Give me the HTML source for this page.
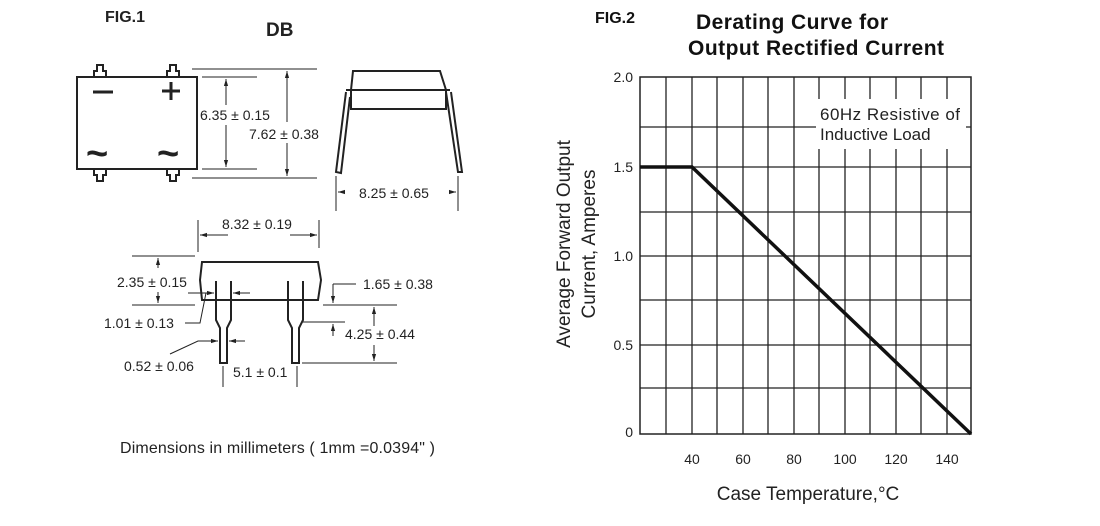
<!DOCTYPE html>
<html><head><meta charset="utf-8"><style>
html,body{margin:0;padding:0;background:#fff;}
svg{display:block;font-family:"Liberation Sans",Arial,sans-serif;}
</style></head><body>
<svg width="1100" height="526" viewBox="0 0 1100 526" xmlns="http://www.w3.org/2000/svg">
<defs>
<marker id="a" viewBox="0 0 10 10" refX="10" refY="5" markerWidth="7" markerHeight="7" orient="auto-start-reverse"><path d="M0,2 L10,5 L0,8 z" fill="#222"/></marker>
</defs>
<g fill="#222" font-size="14">
<text x="105" y="22" font-weight="bold" font-size="16">FIG.1</text>
<text x="266" y="36" font-weight="bold" font-size="19">DB</text>
</g>
<!-- top view -->
<g stroke="#222" stroke-width="2" fill="none">
<rect x="77" y="77" width="120" height="92"/>
<path d="M94,77 v-6 h3 v-6 h6 v6 h3 v6"/>
<path d="M167,77 v-6 h3 v-6 h6 v6 h3 v6"/>
<path d="M94,169 v6 h3 v6 h6 v-6 h3 v-6"/>
<path d="M167,169 v6 h3 v6 h6 v-6 h3 v-6"/>
</g>
<g stroke="#222" stroke-width="3"><line x1="93" y1="92" x2="113" y2="92"/><line x1="162" y1="91" x2="180" y2="91"/><line x1="171" y1="82" x2="171" y2="100"/></g>
<g fill="#222" font-size="38" font-weight="bold"><text x="86" y="166">~</text><text x="157" y="166">~</text></g>
<g stroke="#222" stroke-width="1" fill="none">
<line x1="202" y1="77" x2="257" y2="77"/><line x1="202" y1="169" x2="257" y2="169"/>
<line x1="226" y1="79" x2="226" y2="105" marker-start="url(#a)"/><line x1="226" y1="125" x2="226" y2="167" marker-end="url(#a)"/>
<line x1="192" y1="69" x2="317" y2="69"/><line x1="192" y1="178" x2="317" y2="178"/>
<line x1="287" y1="71" x2="287" y2="122" marker-start="url(#a)"/><line x1="287" y1="143" x2="287" y2="176" marker-end="url(#a)"/>
</g>
<g fill="#222" font-size="14"><text x="200" y="120">6.35 ± 0.15</text><text x="249" y="139">7.62 ± 0.38</text></g>
<!-- side view -->
<g stroke="#222" stroke-width="2" fill="none">
<path d="M353,71 H440 L446,90 V109 H351 V90 Z"/><line x1="346" y1="90" x2="450" y2="90"/>
<path d="M346,92 L336,172 L341,173 L350,97"/>
<path d="M446,92 L458,172 L462,172 L451,92"/>
</g>
<g stroke="#222" stroke-width="1"><line x1="336" y1="176" x2="336" y2="211"/><line x1="458" y1="176" x2="458" y2="211"/>
<line x1="344" y1="192" x2="338" y2="192" marker-end="url(#a)"/><line x1="450" y1="192" x2="456" y2="192" marker-end="url(#a)"/></g>
<text x="359" y="198" font-size="14" fill="#222">8.25 ± 0.65</text>
<!-- bottom view -->
<g stroke="#222" stroke-width="1" fill="none">
<line x1="198" y1="220" x2="198" y2="252"/><line x1="319" y1="220" x2="319" y2="248"/>
<line x1="228" y1="235" x2="200" y2="235" marker-end="url(#a)"/><line x1="290" y1="235" x2="317" y2="235" marker-end="url(#a)"/>
<line x1="132" y1="256" x2="195" y2="256"/><line x1="132" y1="305" x2="195" y2="305"/>
<line x1="158" y1="268" x2="158" y2="258" marker-end="url(#a)"/><line x1="158" y1="292" x2="158" y2="303" marker-end="url(#a)"/>
<line x1="323" y1="305" x2="397" y2="305"/><line x1="333" y1="284" x2="356" y2="284"/><line x1="333" y1="284" x2="333" y2="303" marker-end="url(#a)"/>
<line x1="302" y1="322" x2="345" y2="322"/><line x1="333" y1="336" x2="333" y2="324" marker-end="url(#a)"/>
<line x1="302" y1="363" x2="397" y2="363"/><line x1="374" y1="326" x2="374" y2="307" marker-end="url(#a)"/><line x1="374" y1="345" x2="374" y2="361" marker-end="url(#a)"/>
<line x1="188" y1="293" x2="214" y2="293" marker-end="url(#a)"/><line x1="250" y1="293" x2="233" y2="293" marker-end="url(#a)"/>
<path d="M185,323 H200 L206,293"/>
<line x1="200" y1="341" x2="218" y2="341" marker-end="url(#a)"/><line x1="245" y1="341" x2="229" y2="341" marker-end="url(#a)"/>
<path d="M170,354 L198,341 H202"/>
<line x1="223" y1="366" x2="223" y2="387"/><line x1="297" y1="366" x2="297" y2="387"/>
</g>
<g stroke="#222" stroke-width="2" fill="none">
<path d="M202,262 H318 L321,280 L318,300 H202 L200,280 Z"/>
<path d="M216,281 V320 L220,328 V363 H227 V328 L231,320 V281"/>
<path d="M288,281 V320 L292,328 V363 H299 V328 L303,320 V281"/>
</g>
<g fill="#222" font-size="14">
<text x="222" y="229">8.32 ± 0.19</text><text x="117" y="287">2.35 ± 0.15</text><text x="363" y="289">1.65 ± 0.38</text>
<text x="104" y="328">1.01 ± 0.13</text><text x="345" y="339">4.25 ± 0.44</text><text x="124" y="371">0.52 ± 0.06</text><text x="233" y="377">5.1 ± 0.1</text>
<text x="120" y="453" font-size="16" textLength="315">Dimensions in millimeters ( 1mm =0.0394" )</text>
</g>
<!-- chart -->
<g fill="#111"><text x="595" y="23" font-weight="bold" font-size="16">FIG.2</text>
<text x="696" y="29" font-weight="bold" font-size="21" textLength="192">Derating Curve for</text>
<text x="688" y="55" font-weight="bold" font-size="21" textLength="256">Output Rectified Current</text></g>
<g stroke="#222" stroke-width="1.3">
<line x1="666" y1="77" x2="666" y2="434"/><line x1="692" y1="77" x2="692" y2="434"/><line x1="717" y1="77" x2="717" y2="434"/><line x1="743" y1="77" x2="743" y2="434"/><line x1="768" y1="77" x2="768" y2="434"/><line x1="794" y1="77" x2="794" y2="434"/><line x1="819" y1="77" x2="819" y2="434"/><line x1="845" y1="77" x2="845" y2="434"/><line x1="870" y1="77" x2="870" y2="434"/><line x1="896" y1="77" x2="896" y2="434"/><line x1="921" y1="77" x2="921" y2="434"/><line x1="947" y1="77" x2="947" y2="434"/>
<line x1="640" y1="127" x2="971" y2="127"/><line x1="640" y1="167" x2="971" y2="167"/><line x1="640" y1="212" x2="971" y2="212"/><line x1="640" y1="256" x2="971" y2="256"/><line x1="640" y1="300" x2="971" y2="300"/><line x1="640" y1="345" x2="971" y2="345"/><line x1="640" y1="388" x2="971" y2="388"/>
</g>
<rect x="640" y="77" width="331" height="357" fill="none" stroke="#222" stroke-width="1.5"/>
<rect x="816" y="99" width="150" height="50" fill="#fff"/>
<g fill="#222" font-size="17"><text x="820" y="120" textLength="140">60Hz Resistive of</text><text x="820" y="140">Inductive Load</text></g>
<polyline points="640,167 692,167 971,434" fill="none" stroke="#111" stroke-width="3.5"/>
<g fill="#222" font-size="14" text-anchor="end"><text x="633" y="82">2.0</text><text x="633" y="172">1.5</text><text x="633" y="261">1.0</text><text x="633" y="350">0.5</text><text x="633" y="437">0</text></g>
<g fill="#222" font-size="14" text-anchor="middle"><text x="692" y="464">40</text><text x="743" y="464">60</text><text x="794" y="464">80</text><text x="845" y="464">100</text><text x="896" y="464">120</text><text x="947" y="464">140</text></g>
<g fill="#222" font-size="19" text-anchor="middle">
<text transform="translate(570,244) rotate(-90)">Average Forward Output</text>
<text transform="translate(595,244) rotate(-90)">Current, Amperes</text>
<text x="808" y="500">Case Temperature,°C</text></g>
</svg>
</body></html>
